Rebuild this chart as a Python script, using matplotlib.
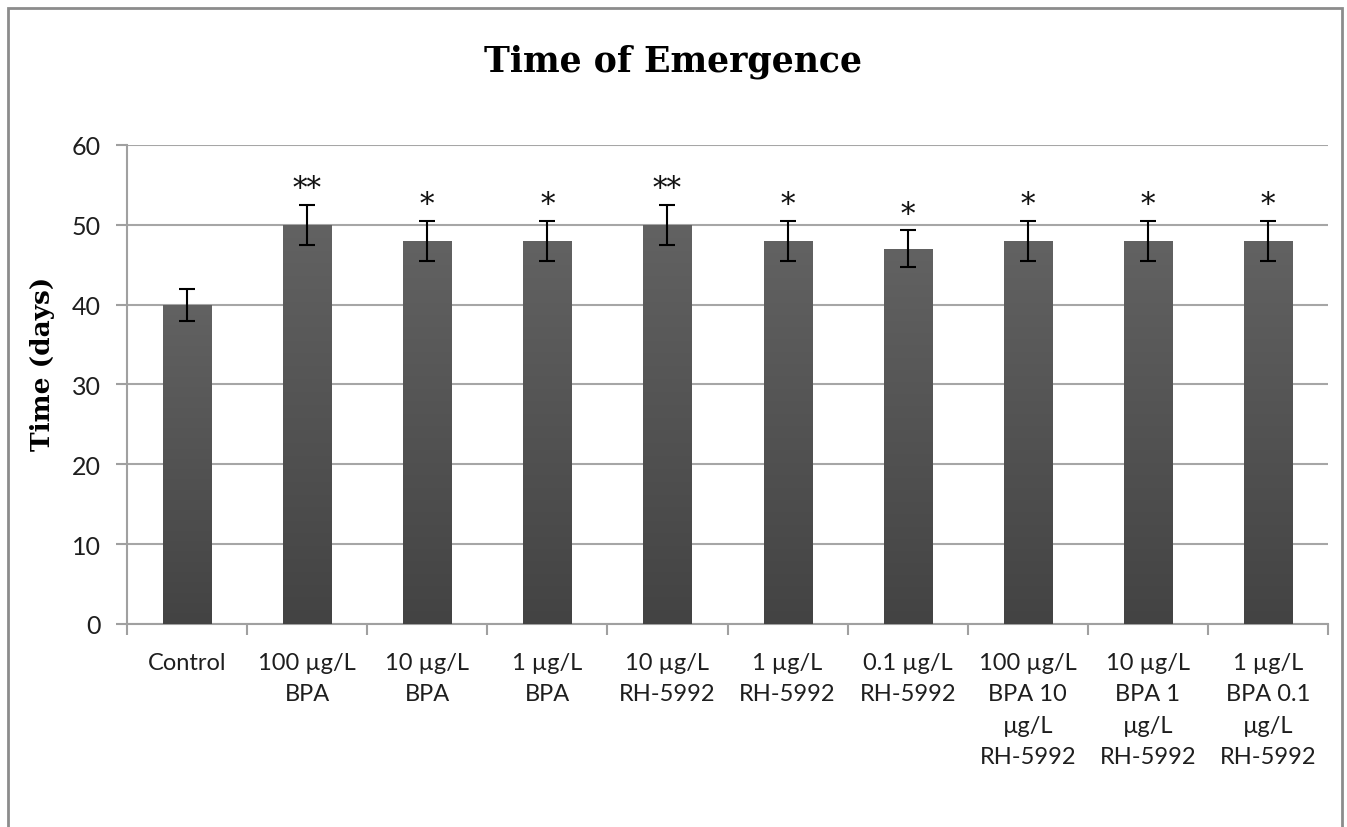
import matplotlib.pyplot as plt
import matplotlib.patches as mpatches
import numpy as np

groups = ["Control", "100 µg/L\nBPA", "10 µg/L\nBPA", "1 µg/L\nBPA",
          "10 µg/L\nRH-5992", "1 µg/L\nRH-5992", "0.1 µg/L\nRH-5992",
          "100 µg/L\nBPA 10\nµg/L\nRH-5992", "10 µg/L\nBPA 1\nµg/L\nRH-5992",
          "1 µg/L\nBPA 0.1\nµg/L\nRH-5992"]
days = [40, 50, 48, 48, 50, 48, 47, 48, 48, 48]
errs = [2, 2.5, 2.5, 2.5, 2.5, 2.5, 2.3, 2.5, 2.5, 2.5]
stars = ["", "**", "*", "*", "**", "*", "*", "*", "*", "*"]

fig = plt.figure(figsize=(13.47, 8.28), dpi=100)
ax = fig.add_axes([0.0943, 0.2452, 0.8916, 0.5785])

x = np.arange(len(groups))
bars = ax.bar(x, days, width=0.4, color="none", zorder=3)

# vertical gradient in each bar, lighter at the top
grad = np.linspace(0, 1, 256).reshape(-1, 1)
cmap = plt.cm.colors.LinearSegmentedColormap.from_list("g", ["#434343", "#626262"])
for b in bars:
    x0, y0, w, h = b.get_x(), b.get_y(), b.get_width(), b.get_height()
    im = ax.imshow(grad, cmap=cmap, origin="lower", aspect="auto",
                   extent=[x0, x0 + w, y0, y0 + h], zorder=3)
    im.set_clip_path(b)

ax.errorbar(x, days, yerr=errs, fmt="none", ecolor="black", elinewidth=1.5,
            capsize=5.8, capthick=1.5, zorder=4)

for xi, d, e, s in zip(x, days, errs, stars):
    if s:
        ax.annotate(s, (xi, d + e), xytext=(0, 2), textcoords="offset points",
                    ha="center", va="bottom", fontsize=21,
                    family="DejaVu Serif", color="#111111")

ax.set_xlim(-0.5, len(groups) - 0.5)
ax.set_ylim(0, 60)
ax.set_yticks(range(0, 61, 10))
ax.set_xticks(np.arange(len(groups) + 1) - 0.5, minor=False)
ax.set_xticklabels([])
ax.set_xticks(x, minor=True)
ax.set_xticklabels(groups, minor=True, fontsize=17, family="Lato",
                   linespacing=1.62, va="top")
ax.tick_params(axis="x", which="minor", length=0, pad=20)
ax.tick_params(axis="x", which="major", length=8, color="#a0a0a0", width=1.5)
ax.tick_params(axis="y", length=8, color="#a0a0a0", width=1.5, pad=11,
               labelsize=18)
for t in ax.get_yticklabels() + ax.get_xticklabels(minor=True):
    t.set_family("Lato")
    t.set_color("#1e1e1e")

ax.grid(axis="y", color="#a6a6a6", linewidth=1.5, zorder=0)
ax.set_axisbelow(True)
for sp in ["top", "right"]:
    ax.spines[sp].set_visible(False)
for sp in ["left", "bottom"]:
    ax.spines[sp].set_color("#a0a0a0")
    ax.spines[sp].set_linewidth(1.5)

ax.set_ylabel("Time (days)", fontsize=19, fontweight="bold",
              family="DejaVu Serif")
ax.yaxis.set_label_coords(-0.060, 0.545)
fig.text(0.5, 0.925, "Time of Emergence", ha="center", va="center",
         fontsize=25, fontweight="bold", family="DejaVu Serif")

fig.patches.append(mpatches.Rectangle((8 / 1347, -0.1), 1334 / 1347, 1.1 - 9 / 828,
                                      transform=fig.transFigure, fill=False,
                                      edgecolor="#8c8c8c", linewidth=2))

fig.savefig("out.png", dpi=100)
